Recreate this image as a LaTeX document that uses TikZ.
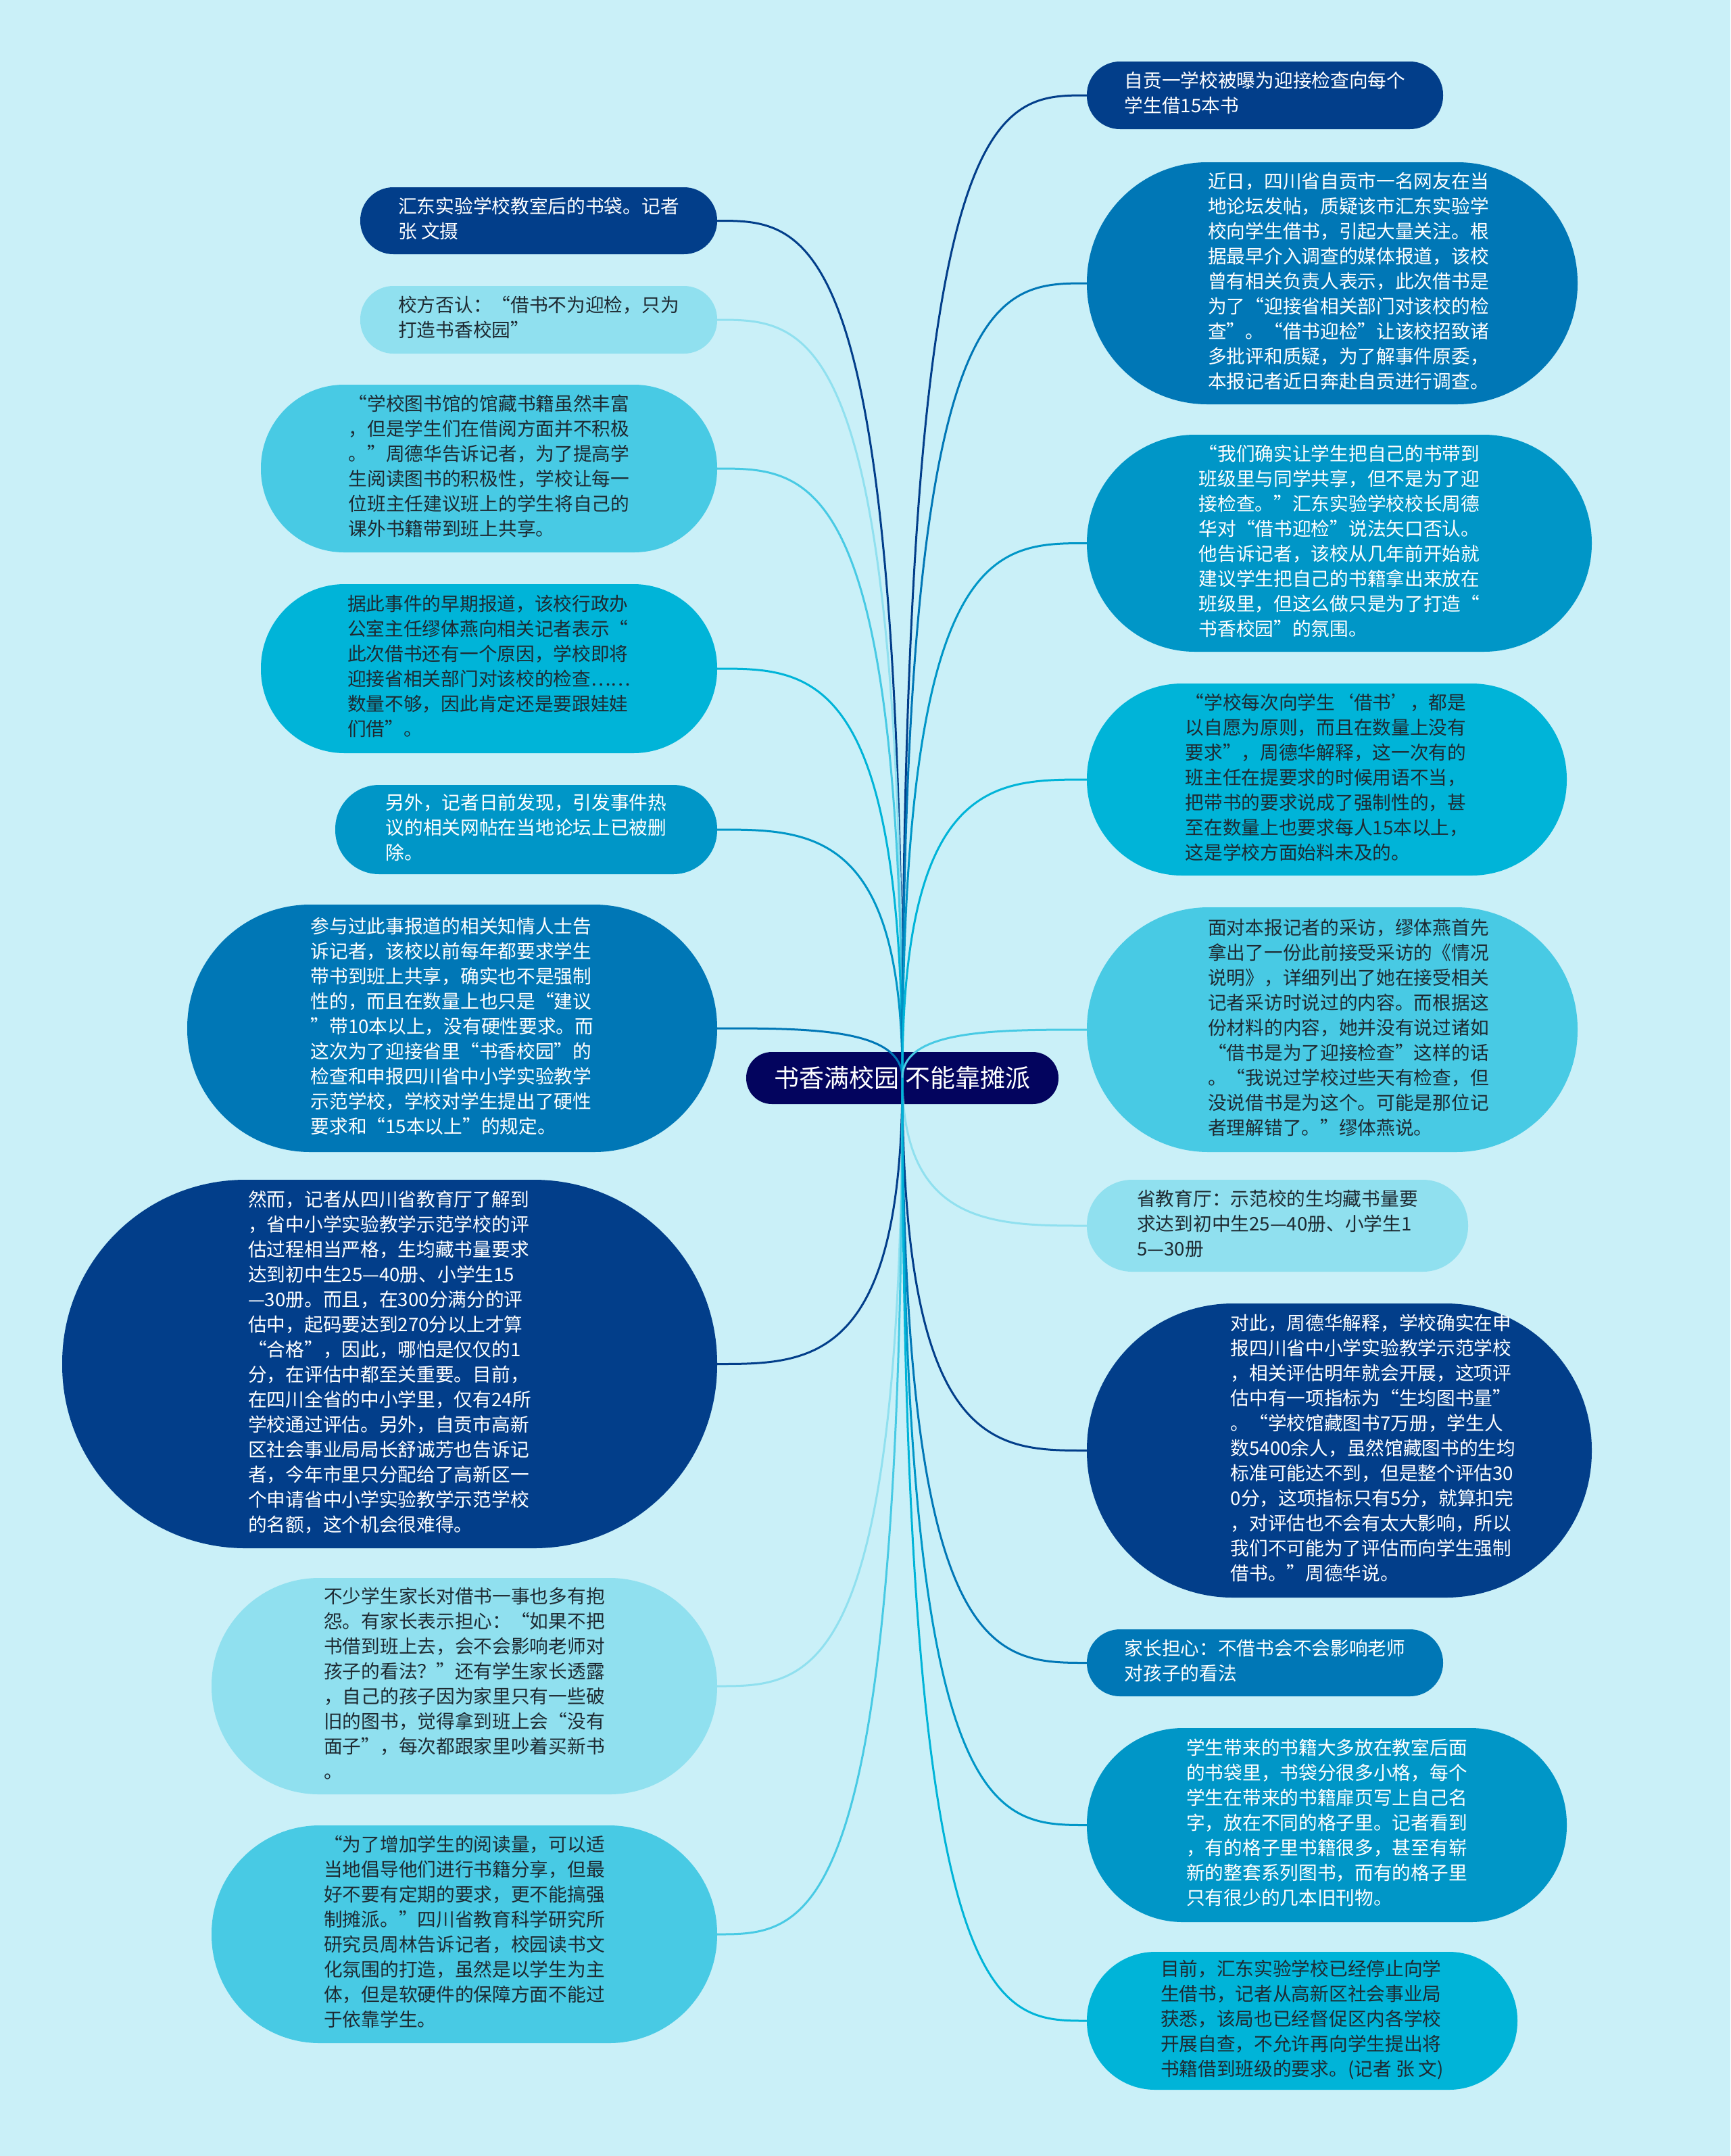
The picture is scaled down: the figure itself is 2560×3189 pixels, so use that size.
\documentclass[tikz,border=0pt]{standalone}
\usepackage{fontspec}
\setmainfont{Noto Sans CJK SC}
\usetikzlibrary{calc}
\definecolor{bg}{HTML}{CAF0F8}
\definecolor{cA}{HTML}{023E8A}
\definecolor{cB}{HTML}{0077B6}
\definecolor{cC}{HTML}{0096C7}
\definecolor{cD}{HTML}{00B4D8}
\definecolor{cE}{HTML}{48CAE4}
\definecolor{cF}{HTML}{90E0EF}
\definecolor{croot}{HTML}{03045E}
\definecolor{dtext}{HTML}{1E2A32}
\newcommand\tb[2]{\hspace*{#1}\begin{tabular}{@{}l@{}}#2\end{tabular}}
\newcommand\lk[3]{\draw[line width=3pt,#3] (root.center) .. controls (root.center |- #1.#2) and ($(root.center |- #1.#2)!0.5!(#1.#2)$) .. (#1.#2);}
\tikzset{
  nd/.style={inner sep=0pt, font=\fontsize{27.7}{37}\selectfont},
  tw/.style={text=white},
  td/.style={text=dtext},
}
\begin{document}
\begin{tikzpicture}[x=1pt,y=-1pt]
\fill[bg] (0,0) rectangle (2560,3189);
\useasboundingbox (0,0) rectangle (2560,3189);

% left nodes
\node[nd,tw,fill=cA,minimum width=528pt,minimum height=99pt,rounded corners=49pt] (L1) at (797,326.5)
 {\tb{0pt}{汇东实验学校教室后的书袋。记者\\张 文摄}};
\node[nd,td,fill=cF,minimum width=528pt,minimum height=100pt,rounded corners=49pt] (L2) at (797,473)
 {\tb{0pt}{校方否认：“借书不为迎检，只为\\打造书香校园”}};
\node[nd,td,fill=cE,minimum width=675pt,minimum height=248pt,rounded corners=123pt] (L3) at (723.5,693)
 {\tb{0pt}{“学校图书馆的馆藏书籍虽然丰富\\，但是学生们在借阅方面并不积极\\。”周德华告诉记者，为了提高学\\生阅读图书的积极性，学校让每一\\位班主任建议班上的学生将自己的\\课外书籍带到班上共享。}};
\node[nd,td,fill=cD,minimum width=675pt,minimum height=250pt,rounded corners=124pt] (L4) at (723.5,989)
 {\tb{0pt}{据此事件的早期报道，该校行政办\\公室主任缪体燕向相关记者表示“\\此次借书还有一个原因，学校即将\\迎接省相关部门对该校的检查……\\数量不够，因此肯定还是要跟娃娃\\们借”。}};
\node[nd,tw,fill=cC,minimum width=565pt,minimum height=132pt,rounded corners=65pt] (L5) at (778.5,1227)
 {\tb{0pt}{另外，记者日前发现，引发事件热\\议的相关网帖在当地论坛上已被删\\除。}};
\node[nd,tw,fill=cB,minimum width=784pt,minimum height=366pt,rounded corners=182pt] (L6) at (669,1521)
 {\tb{0pt}{参与过此事报道的相关知情人士告\\诉记者，该校以前每年都要求学生\\带书到班上共享，确实也不是强制\\性的，而且在数量上也只是“建议\\”带10本以上，没有硬性要求。而\\这次为了迎接省里“书香校园”的\\检查和申报四川省中小学实验教学\\示范学校，学校对学生提出了硬性\\要求和“15本以上”的规定。}};
\node[nd,tw,fill=cA,minimum width=969pt,minimum height=545pt,rounded corners=271pt] (L7) at (576.5,2017.5)
 {\tb{0pt}{然而，记者从四川省教育厅了解到\\，省中小学实验教学示范学校的评\\估过程相当严格，生均藏书量要求\\达到初中生25—40册、小学生15\\—30册。而且，在300分满分的评\\估中，起码要达到270分以上才算\\“合格”，因此，哪怕是仅仅的1\\分，在评估中都至关重要。目前，\\在四川全省的中小学里，仅有24所\\学校通过评估。另外，自贡市高新\\区社会事业局局长舒诚芳也告诉记\\者，今年市里只分配给了高新区一\\个申请省中小学实验教学示范学校\\的名额，这个机会很难得。}};
\node[nd,td,fill=cF,minimum width=748pt,minimum height=320pt,rounded corners=159pt] (L8) at (687,2494)
 {\tb{0pt}{不少学生家长对借书一事也多有抱\\怨。有家长表示担心：“如果不把\\书借到班上去，会不会影响老师对\\孩子的看法？”还有学生家长透露\\，自己的孩子因为家里只有一些破\\旧的图书，觉得拿到班上会“没有\\面子”，每次都跟家里吵着买新书\\。}};
\node[nd,td,fill=cE,minimum width=748pt,minimum height=322pt,rounded corners=160pt] (L9) at (687,2861)
 {\tb{0pt}{“为了增加学生的阅读量，可以适\\当地倡导他们进行书籍分享，但最\\好不要有定期的要求，更不能搞强\\制摊派。”四川省教育科学研究所\\研究员周林告诉记者，校园读书文\\化氛围的打造，虽然是以学生为主\\体，但是软硬件的保障方面不能过\\于依靠学生。}};

% right nodes
\node[nd,tw,fill=cA,minimum width=527pt,minimum height=100pt,rounded corners=49pt] (R1) at (1871.5,141)
 {\tb{0pt}{自贡一学校被曝为迎接检查向每个\\学生借15本书}};
\node[nd,tw,fill=cB,minimum width=726pt,minimum height=358pt,rounded corners=178pt] (R2) at (1971,419)
 {\tb{48pt}{近日，四川省自贡市一名网友在当\\地论坛发帖，质疑该市汇东实验学\\校向学生借书，引起大量关注。根\\据最早介入调查的媒体报道，该校\\曾有相关负责人表示，此次借书是\\为了“迎接省相关部门对该校的检\\查”。“借书迎检”让该校招致诸\\多批评和质疑，为了解事件原委，\\本报记者近日奔赴自贡进行调查。}};
\node[nd,tw,fill=cC,minimum width=747pt,minimum height=321pt,rounded corners=160pt] (R3) at (1981.5,803.5)
 {\tb{0pt}{“我们确实让学生把自己的书带到\\班级里与同学共享，但不是为了迎\\接检查。”汇东实验学校校长周德\\华对“借书迎检”说法矢口否认。\\他告诉记者，该校从几年前开始就\\建议学生把自己的书籍拿出来放在\\班级里，但这么做只是为了打造“\\书香校园”的氛围。}};
\node[nd,td,fill=cD,minimum width=710pt,minimum height=284pt,rounded corners=141pt] (R4) at (1963,1153)
 {\tb{0pt}{“学校每次向学生‘借书’，都是\\以自愿为原则，而且在数量上没有\\要求”，周德华解释，这一次有的\\班主任在提要求的时候用语不当，\\把带书的要求说成了强制性的，甚\\至在数量上也要求每人15本以上，\\这是学校方面始料未及的。}};
\node[nd,td,fill=cE,minimum width=726pt,minimum height=362pt,rounded corners=180pt] (R5) at (1971,1523)
 {\tb{48pt}{面对本报记者的采访，缪体燕首先\\拿出了一份此前接受采访的《情况\\说明》，详细列出了她在接受相关\\记者采访时说过的内容。而根据这\\份材料的内容，她并没有说过诸如\\“借书是为了迎接检查”这样的话\\。“我说过学校过些天有检查，但\\没说借书是为这个。可能是那位记\\者理解错了。”缪体燕说。}};
\node[nd,td,fill=cF,minimum width=564pt,minimum height=136pt,rounded corners=67pt] (R6) at (1890,1813)
 {\tb{0pt}{省教育厅：示范校的生均藏书量要\\求达到初中生25—40册、小学生1\\5—30册}};
\node[nd,tw,fill=cA,minimum width=747pt,minimum height=435pt,rounded corners=216pt] (R7) at (1981.5,2145.5)
 {\tb{100pt}{对此，周德华解释，学校确实在申\\报四川省中小学实验教学示范学校\\，相关评估明年就会开展，这项评\\估中有一项指标为“生均图书量”\\。“学校馆藏图书7万册，学生人\\数5400余人，虽然馆藏图书的生均\\标准可能达不到，但是整个评估30\\0分，这项指标只有5分，就算扣完\\，对评估也不会有太大影响，所以\\我们不可能为了评估而向学生强制\\借书。”周德华说。}};
\node[nd,tw,fill=cB,minimum width=527pt,minimum height=99pt,rounded corners=49pt] (R8) at (1871.5,2459.5)
 {\tb{0pt}{家长担心：不借书会不会影响老师\\对孩子的看法}};
\node[nd,tw,fill=cC,minimum width=710pt,minimum height=287pt,rounded corners=142pt] (R9) at (1963,2699.5)
 {\tb{0pt}{学生带来的书籍大多放在教室后面\\的书袋里，书袋分很多小格，每个\\学生在带来的书籍扉页写上自己名\\字，放在不同的格子里。记者看到\\，有的格子里书籍很多，甚至有崭\\新的整套系列图书，而有的格子里\\只有很少的几本旧刊物。}};
\node[nd,td,fill=cD,minimum width=637pt,minimum height=204pt,rounded corners=101pt] (R10) at (1926.5,2989)
 {\tb{0pt}{目前，汇东实验学校已经停止向学\\生借书，记者从高新区社会事业局\\获悉，该局也已经督促区内各学校\\开展自查，不允许再向学生提出将\\书籍借到班级的要求。(记者 张 文)}};

% root
\node[inner sep=0pt,fill=croot,text=white,minimum width=462pt,minimum height=77pt,rounded corners=38pt,font=\fontsize{37}{44}\selectfont] (root) at (1335,1594.5) {书香满校园 不能靠摊派};

% connectors
\lk{L1}{east}{cA}
\lk{L2}{east}{cF}
\lk{L3}{east}{cE}
\lk{L4}{east}{cD}
\lk{L5}{east}{cC}
\lk{L6}{east}{cB}
\lk{L7}{east}{cA}
\lk{L8}{east}{cF}
\lk{L9}{east}{cE}
\lk{R1}{west}{cA}
\lk{R2}{west}{cB}
\lk{R3}{west}{cC}
\lk{R4}{west}{cD}
\lk{R5}{west}{cE}
\lk{R6}{west}{cF}
\lk{R7}{west}{cA}
\lk{R8}{west}{cB}
\lk{R9}{west}{cC}
\lk{R10}{west}{cD}
\end{tikzpicture}
\end{document}
